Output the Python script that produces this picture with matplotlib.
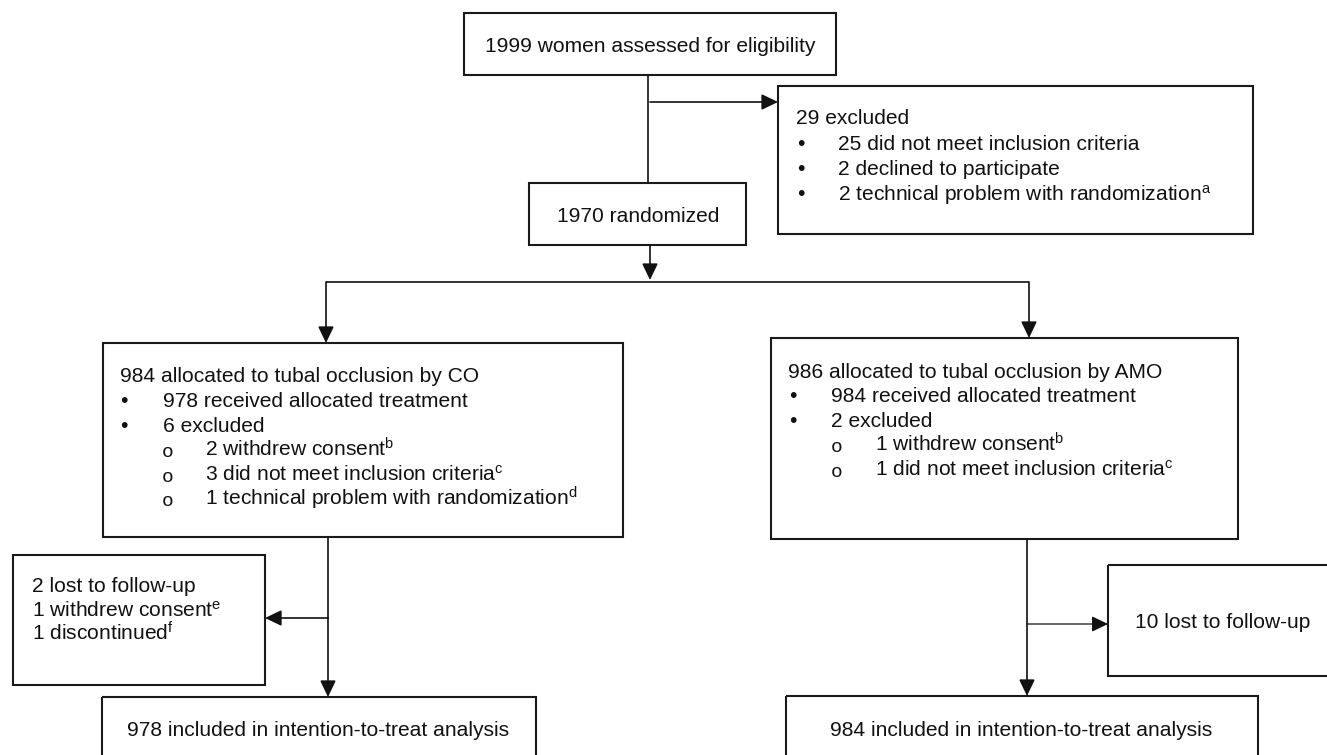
import matplotlib
matplotlib.use('Agg')
import matplotlib.pyplot as plt
from matplotlib.patches import Rectangle

plt.rcParams['font.family'] = ['Liberation Sans', 'DejaVu Sans']
plt.rcParams['mathtext.fontset'] = 'custom'
plt.rcParams['mathtext.rm'] = 'Liberation Sans'
plt.rcParams['mathtext.it'] = 'Liberation Sans:italic'

# --- flow chart content ---
enrol_text = "1999 women assessed for eligibility"
random_text = "1970 randomized"
excluded_head = "29 excluded"
excluded_items = ["25 did not meet inclusion criteria",
                  "2 declined to participate",
                  r"2 technical problem with randomization$^{\mathrm{a}}$"]
co_head = "984 allocated to tubal occlusion by CO"
co_items = ["978 received allocated treatment", "6 excluded"]
co_subitems = [r"2 withdrew consent$^{\mathrm{b}}$",
               r"3 did not meet inclusion criteria$^{\mathrm{c}}$",
               r"1 technical problem with randomization$^{\mathrm{d}}$"]
amo_head = "986 allocated to tubal occlusion by AMO"
amo_items = ["984 received allocated treatment", "2 excluded"]
amo_subitems = [r"1 withdrew consent$^{\mathrm{b}}$",
                r"1 did not meet inclusion criteria$^{\mathrm{c}}$"]
co_followup = ["2 lost to follow-up",
               r"1 withdrew consent$^{\mathrm{e}}$",
               r"1 discontinued$^{\mathrm{f}}$"]
amo_followup = ["10 lost to follow-up"]
co_itt = "978 included in intention-to-treat analysis"
amo_itt = "984 included in intention-to-treat analysis"

# --- layout in pixels (x0, y0, x1, y1), y grows downward ---
W, H = 1327, 755
FS = 15.1          # ~21 px
LINE = 24.6        # line spacing in px
CAP = 7.5          # half cap height, centre -> baseline

fig = plt.figure(figsize=(W / 100, H / 100), dpi=100)
ax = fig.add_axes([0, 0, 1, 1])
ax.set_xlim(0, W)
ax.set_ylim(H, 0)
ax.axis('off')

BOX_C = '#1a1a1a'
LINE_C = '#111111'


def box(x0, y0, x1, y1):
    ax.add_patch(Rectangle((x0, y0), x1 - x0, y1 - y0, fill=False,
                           edgecolor=BOX_C, linewidth=1.5))


def line(xs, ys, lw=1.2):
    ax.plot(xs, ys, color=LINE_C, linewidth=lw, solid_capstyle='butt')


def arrow(x0, y0, x1, y1, lw=1.2):
    ax.annotate('', xy=(x1, y1), xytext=(x0, y0),
                arrowprops=dict(arrowstyle='-|>,head_length=1.0,head_width=0.48',
                                mutation_scale=10, color=LINE_C, lw=lw,
                                shrinkA=0, shrinkB=0))


def txt(x, y, s, ha='left', **kw):
    ax.text(x, y + CAP, s, ha=ha, va='baseline', fontsize=FS, color='#111111', **kw)


def bullet(x, y):
    ax.text(x, y + CAP, '\u2022', ha='center', va='baseline', fontsize=FS, color='#111111')


def circle(x, y):
    ax.text(x, y + CAP + 1, 'o', ha='center', va='baseline', fontsize=14,
            family='Liberation Mono', color='#111111')


def listing(x, y, head, items, subitems, bx, tx, sx, stx):
    txt(x, y, head)
    rows = 1
    for it in items:
        bullet(bx, y + rows * LINE)
        txt(tx, y + rows * LINE, it)
        rows += 1
    for it in subitems:
        circle(sx, y + rows * LINE)
        txt(stx, y + rows * LINE, it)
        rows += 1


# enrolment
box(464, 13, 836, 75)
txt(650, 44, enrol_text, ha='center')
line([648, 648], [75, 183])
arrow(650, 102, 778, 102)

box(778, 86, 1253, 234)
txt(796, 117, excluded_head)
for i, it in enumerate(excluded_items):
    bullet(801, 117 + (i + 1) * 25.3)
    txt(838, 117 + (i + 1) * 25.3, it)

box(529, 183, 746, 245)
txt(638, 214, random_text, ha='center')
arrow(650, 245, 650, 280)

# split
line([326, 1029], [282, 282])
arrow(326, 282, 326, 343)
arrow(1029, 282, 1029, 338)

# allocation boxes
box(103, 343, 623, 537)
listing(120, 375, co_head, co_items, co_subitems, 124, 163, 168, 205)

box(771, 338, 1238, 539)
listing(788, 370, amo_head, amo_items, amo_subitems, 793, 831, 837, 875)

# follow-up, CO arm
line([328, 328], [537, 618])
arrow(328, 618, 328, 697)
arrow(328, 618, 265, 618)
box(13, 555, 265, 685)
for i, s in enumerate(co_followup):
    txt(32, 585 + i * 24, s)

# follow-up, AMO arm
line([1027, 1027], [539, 624])
arrow(1027, 624, 1027, 696)
arrow(1027, 624, 1108, 624, lw=0.9)
box(1108, 565, 1340, 676)
txt(1135, 621, amo_followup[0])

# analysis
box(102, 697, 536, 770)
txt(127, 728, co_itt)
box(786, 696, 1258, 770)
txt(830, 728, amo_itt)

fig.savefig('out.png', dpi=100, facecolor='white')
